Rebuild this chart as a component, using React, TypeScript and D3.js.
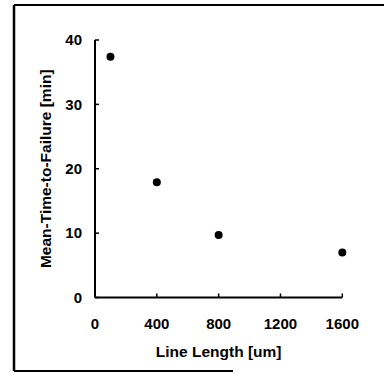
import React from "react";
import * as d3 from "d3";

const lineLengths = [100, 400, 800, 1600];
const mttf = [37.4, 17.9, 9.7, 7.0];
const xTicks = [0, 400, 800, 1200, 1600];
const yTicks = [0, 10, 20, 30, 40];
const xLabel = "Line Length [um]";
const yLabel = "Mean-Time-to-Failure [min]";

export default function App() {
  const W = 384, H = 373;
  const x = d3.scaleLinear().domain([0, 1600]).range([95, 342.3]);
  const y = d3.scaleLinear().domain([0, 40]).range([297.5, 40]);
  const font = "'Liberation Sans', Arial, sans-serif";
  const tick = 4;
  return (
    <svg width={W} height={H} style={{ position: "absolute", left: 0, top: 0, background: "#fff" }}>
      {/* frame */}
      <line x1={14} y1={5} x2={384} y2={5} stroke="#000" strokeWidth={2} />
      <line x1={14} y1={5} x2={14} y2={371} stroke="#000" strokeWidth={2.5} />
      <line x1={14} y1={371} x2={233} y2={371} stroke="#000" strokeWidth={2} />
      {/* y axis */}
      <line x1={x(0)} y1={y(40)} x2={x(0)} y2={y(0)} stroke="#000" strokeWidth={2} />
      {yTicks.map((t) => (
        <g key={"y" + t}>
          <line x1={x(0)} x2={x(0) + tick} y1={y(t)} y2={y(t)} stroke="#000" strokeWidth={1.5} />
          <text x={82} y={y(t)} dy="0.35em" textAnchor="end" fontFamily={font} fontWeight="bold" fontSize={15}>
            {t}
          </text>
        </g>
      ))}
      {/* x axis */}
      <line x1={x(0)} y1={y(0)} x2={x(1600)} y2={y(0)} stroke="#000" strokeWidth={2} />
      {xTicks.map((t) => (
        <g key={"x" + t}>
          <line x1={x(t)} x2={x(t)} y1={y(0)} y2={y(0) - tick} stroke="#000" strokeWidth={1.5} />
          <text x={x(t)} y={329} textAnchor="middle" fontFamily={font} fontWeight="bold" fontSize={15}>
            {t}
          </text>
        </g>
      ))}
      {/* labels */}
      <text x={(x(0) + x(1600)) / 2} y={357} textAnchor="middle" fontFamily={font} fontWeight="bold" fontSize={15.5}>
        {xLabel}
      </text>
      <text
        transform={`translate(50.5,${(y(0) + y(40)) / 2}) rotate(-90)`}
        textAnchor="middle"
        fontFamily={font}
        fontWeight="bold"
        fontSize={15.5}
      >
        {yLabel}
      </text>
      {/* points */}
      {lineLengths.map((l, i) => (
        <circle key={i} cx={x(l)} cy={y(mttf[i])} r={4} fill="#000" />
      ))}
    </svg>
  );
}
